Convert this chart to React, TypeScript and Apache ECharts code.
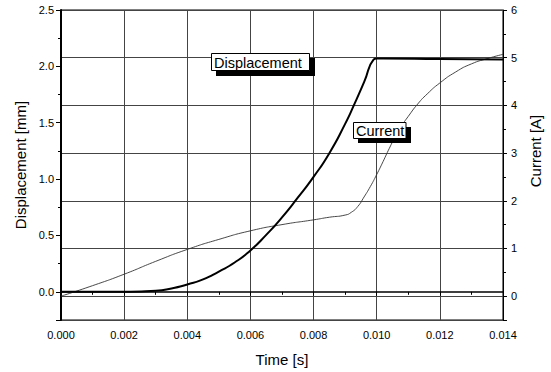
import React, { useEffect, useRef } from "react";
import * as echarts from "echarts";

const dispTime = [0, 0.001, 0.002, 0.003, 0.0035, 0.004, 0.0045, 0.005, 0.0055, 0.006, 0.0065, 0.007, 0.0075, 0.008, 0.0085, 0.009, 0.0093, 0.0096, 0.0099, 0.0100, 0.0102, 0.012, 0.014];
const dispValues = [0, 0, 0, 0.01, 0.03, 0.065, 0.11, 0.18, 0.26, 0.367, 0.505, 0.66, 0.835, 1.02, 1.23, 1.49, 1.67, 1.86, 2.06, 2.07, 2.07, 2.065, 2.06];

const curTime = [0, 0.001, 0.002, 0.003, 0.004, 0.005, 0.006, 0.007, 0.008, 0.0085, 0.009, 0.0092, 0.0094, 0.0096, 0.0098, 0.01, 0.0102, 0.0104, 0.0106, 0.0108, 0.011, 0.0113, 0.0116, 0.012, 0.0125, 0.013, 0.0135, 0.014];
const curValues = [0.0, 0.22, 0.46, 0.73, 0.98, 1.19, 1.37, 1.5, 1.6, 1.655, 1.7, 1.76, 1.88, 2.08, 2.3, 2.55, 2.82, 3.1, 3.36, 3.58, 3.77, 4.03, 4.24, 4.47, 4.7, 4.87, 4.98, 5.07];

const FONT = "Liberation Sans, Arial, sans-serif";

export default function App() {
  const ref = useRef<HTMLDivElement>(null);
  useEffect(() => {
    if (!ref.current) return;
    const chart = echarts.init(ref.current, undefined, { renderer: "svg" });
    const dispData = dispTime.map((t, i) => [t, dispValues[i]]);
    const curData = curTime.map((t, i) => [t, curValues[i]]);
    chart.setOption({
      animation: false,
      backgroundColor: "#fff",
      textStyle: { fontFamily: FONT },
      grid: { left: 61, right: 41, top: 10, bottom: 49, show: true, borderColor: "#000", borderWidth: 1 },
      xAxis: {
        type: "value",
        min: 0,
        max: 0.014,
        interval: 0.002,
        name: "Time [s]",
        nameLocation: "middle",
        nameGap: 32,
        nameTextStyle: { fontSize: 15, color: "#000", fontFamily: FONT },
        axisLine: { lineStyle: { color: "#000", width: 1.5 } },
        axisTick: { inside: false, length: 4, lineStyle: { color: "#000" } },
        minorTick: { show: true, splitNumber: 2, length: 3, lineStyle: { color: "#000" } },
        axisLabel: { color: "#000", fontSize: 11, margin: 9, formatter: (v: number) => v.toFixed(3), fontFamily: FONT },
        splitLine: { show: true, lineStyle: { color: "#444", width: 1 } },
      },
      yAxis: [
        {
          type: "value",
          min: -0.25,
          max: 2.5,
          position: "left",
          name: "Displacement [mm]",
          nameLocation: "middle",
          nameGap: 32,
          nameRotate: 90,
          nameTextStyle: { fontSize: 15, color: "#000", fontFamily: FONT },
          axisLine: { show: true, lineStyle: { color: "#000", width: 2 } },
          axisTick: { show: true, length: 5, lineStyle: { color: "#000" } },
          minorTick: { show: true, splitNumber: 2, length: 3, lineStyle: { color: "#000" } },
          axisLabel: {
            color: "#000",
            fontSize: 11,
            margin: 7,
            fontFamily: FONT,
            formatter: (v: number) => (v < 0 ? "" : v.toFixed(1)),
          },
          splitLine: { show: false },
        },
        {
          type: "value",
          min: -0.5,
          max: 6,
          position: "right",
          name: "Current [A]",
          nameLocation: "middle",
          nameGap: 21,
          nameRotate: 90,
          nameTextStyle: { fontSize: 15, color: "#000", fontFamily: FONT, padding: [0, 0, 0, 28] },
          axisLine: { show: true, lineStyle: { color: "#000", width: 1 } },
          axisTick: { show: true, length: 4, lineStyle: { color: "#000" } },
          minorTick: { show: true, splitNumber: 2, length: 3, lineStyle: { color: "#000" } },
          axisLabel: {
            color: "#000",
            fontSize: 11,
            margin: 8,
            fontFamily: FONT,
            padding: [5, 0, 0, 0],
            formatter: (v: number) => (v < 0 ? "" : String(v)),
          },
          splitLine: { show: true, lineStyle: { color: "#444", width: 1 } },
        },
      ],
      series: [
        {
          name: "Current",
          type: "line",
          yAxisIndex: 1,
          data: curData,
          showSymbol: false,
          symbol: "none",
          smooth: 0.6,
          lineStyle: { color: "#333", width: 0.9 },
          z: 3,
        },
        {
          name: "Displacement",
          type: "line",
          yAxisIndex: 0,
          data: dispData,
          showSymbol: false,
          symbol: "none",
          smooth: 0.6,
          lineStyle: { color: "#000", width: 2 },
          z: 4,
        },
      ],
      graphic: [
        { type: "rect", shape: { x: 216, y: 58, width: 99, height: 18 }, style: { fill: "#000" }, z: 100 },
        { type: "rect", shape: { x: 211.5, y: 53.5, width: 98, height: 17 }, style: { fill: "#fff", stroke: "#000", lineWidth: 1 }, z: 101 },
        { type: "text", x: 214, y: 62.5, style: { text: "Displacement", fontSize: 14.5, fontFamily: FONT, fill: "#000", verticalAlign: "middle" }, z: 102 },
        { type: "rect", shape: { x: 358, y: 127, width: 53, height: 16 }, style: { fill: "#000" }, z: 100 },
        { type: "rect", shape: { x: 353.5, y: 122.5, width: 52.5, height: 16 }, style: { fill: "#fff", stroke: "#000", lineWidth: 1 }, z: 101 },
        { type: "text", x: 356, y: 131, style: { text: "Current", fontSize: 14.5, fontFamily: FONT, fill: "#000", verticalAlign: "middle" }, z: 102 },
      ],
    });
    return () => chart.dispose();
  }, []);
  return <div ref={ref} style={{ width: 551, height: 372, position: "absolute", left: 0, top: 0 }} />;
}
